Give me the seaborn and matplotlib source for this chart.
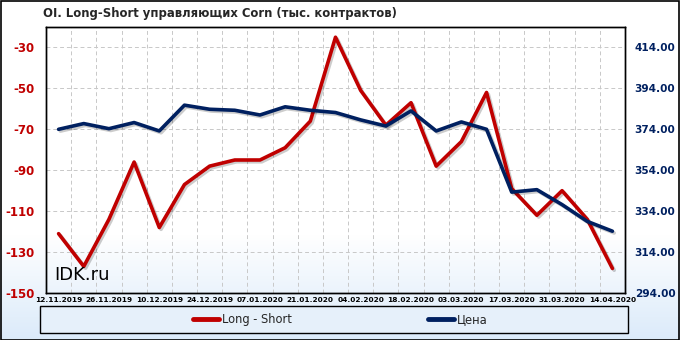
import numpy as np
import pandas as pd
import matplotlib
matplotlib.use("Agg")
import matplotlib.pyplot as plt
import matplotlib.patheffects as pe
from matplotlib.patches import Rectangle
from matplotlib.lines import Line2D
import seaborn as sns

# ---- data ----
dates = ["12.11.2019", "19.11.2019", "26.11.2019", "03.12.2019", "10.12.2019", "17.12.2019",
         "24.12.2019", "31.12.2019", "07.01.2020", "14.01.2020", "21.01.2020", "28.01.2020",
         "04.02.2020", "11.02.2020", "18.02.2020", "25.02.2020", "03.03.2020", "10.03.2020",
         "17.03.2020", "24.03.2020", "31.03.2020", "07.04.2020", "14.04.2020"]
long_short = [-121, -137, -114, -86, -118, -97, -88, -85, -85, -79, -66, -25,
              -51, -68, -57, -88, -76, -52, -99, -112, -100, -114, -138]
price = [374.0, 376.8, 374.3, 377.3, 373.2, 385.8, 383.8, 383.3, 381.0, 385.0, 383.3, 382.2,
         378.6, 375.6, 383.0, 373.2, 377.6, 374.0, 343.3, 344.5, 337.2, 329.0, 324.2]
left_ticks = [-150, -130, -110, -90, -70, -50, -30]
right_ticks = [294, 314, 334, 354, 374, 394, 414]

title = "OI. Long-Short управляющих Corn (тыс. контрактов)"
RED = "#C00000"
NAVY = "#002060"

df = pd.DataFrame({"idx": np.arange(len(dates)), "date": dates,
                   "ls": long_short, "price": price})

sns.set_theme(style="white")
plt.rcParams["font.family"] = ["DejaVu Sans"]

W, H = 680, 340
fig = plt.figure(figsize=(W / 100, H / 100), dpi=100)

# background gradient
bg = fig.add_axes([0, 0, 1, 1], zorder=-10)
ys = np.linspace(0, 1, 340)
top_col = np.array([1.0, 1.0, 1.0])
bot_col = np.array([0.86, 0.92, 0.98])
t = np.clip((ys * 340 - 235) / (340 - 235), 0, 1)
grad = top_col[None, :] * (1 - t[:, None]) + bot_col[None, :] * t[:, None]
img = np.repeat(grad[:, None, :], 10, axis=1)
bg.imshow(img, aspect="auto", extent=[0, 1, 1, 0])
bg.set_xlim(0, 1); bg.set_ylim(1, 0)
bg.axis("off")
bg.add_patch(Rectangle((0.5 / W, 0.5 / H), 1 - 1.5 / W, 1 - 1.5 / H, fill=False,
                       edgecolor="black", lw=1.2, transform=bg.transAxes))

left, right, top, bottom = 46, 625, 27, 293
ax = fig.add_axes([left / W, 1 - bottom / H, (right - left) / W, (bottom - top) / H])
ax.set_facecolor("none")
ax2 = ax.twinx()

shadow = [pe.SimpleLineShadow(offset=(1.3, -1.3), alpha=0.2, shadow_color="black"), pe.Normal()]

sns.lineplot(data=df, x="idx", y="ls", ax=ax, color=RED, lw=2.6, legend=False,
             path_effects=shadow, zorder=3)
sns.lineplot(data=df, x="idx", y="price", ax=ax2, color=NAVY, lw=2.6, legend=False,
             path_effects=shadow, zorder=3)
for l in ax.lines + ax2.lines:
    l.set_solid_capstyle("round")
    l.set_solid_joinstyle("round")

n = len(dates)
ax.set_xlim(-0.5, n - 0.5)
ax.set_ylim(-150, -20)
ax2.set_ylim(294, 424)

# grid
for k in range(1, n):
    ax.axvline(k - 0.5, color="#C8C8C8", lw=0.7, ls=(0, (4, 3)), zorder=1)
for v in left_ticks[1:]:
    ax.axhline(v, color="#C8C8C8", lw=0.7, ls=(0, (4, 3)), zorder=1)

ax.set_yticks(left_ticks)
ax.set_yticklabels([str(v) for v in left_ticks], color=RED, fontsize=8.5, fontweight="bold")
ax2.set_yticks(right_ticks)
ax2.set_yticklabels([f"{v:.2f}" for v in right_ticks], color=NAVY, fontsize=7.6, fontweight="bold")
ax.set_xticks(range(0, n, 2))
ax.set_xticklabels(dates[0::2], fontsize=5.3, fontweight="bold", color="black")
ax.tick_params(axis="x", length=0, pad=3)
ax.tick_params(axis="y", length=0, pad=8)
ax2.tick_params(axis="y", length=0, pad=7)
ax.set_xlabel(""); ax.set_ylabel(""); ax2.set_ylabel("")
for a in (ax, ax2):
    for s in a.spines.values():
        s.set_color("black")
        s.set_linewidth(1)
ax2.grid(False); ax.grid(False)

ax.text(0.015, 0.035, "IDK.ru", transform=ax.transAxes, fontsize=13, color="black",
        ha="left", va="bottom", zorder=4)

fig.text(43 / W, 1 - 14 / H, title, fontsize=8.4, fontweight="bold", ha="left", va="center")

# legend box
fig.patches.append(Rectangle((40 / W, 1 - 333 / H), 588 / W, 27 / H, transform=fig.transFigure,
                             facecolor="#E6F0FA", edgecolor="black", lw=1, zorder=1))
handles = [Line2D([], [], color=RED, lw=3.5), Line2D([], [], color=NAVY, lw=3.5)]
fig.legend(handles, ["Long - Short", "Цена"], loc="center", ncol=2, frameon=False,
           bbox_to_anchor=(340 / W, 1 - 319.5 / H), fontsize=8.3, handlelength=2.3,
           handletextpad=0.2, columnspacing=11.8)

fig.savefig("out.png", dpi=100)
